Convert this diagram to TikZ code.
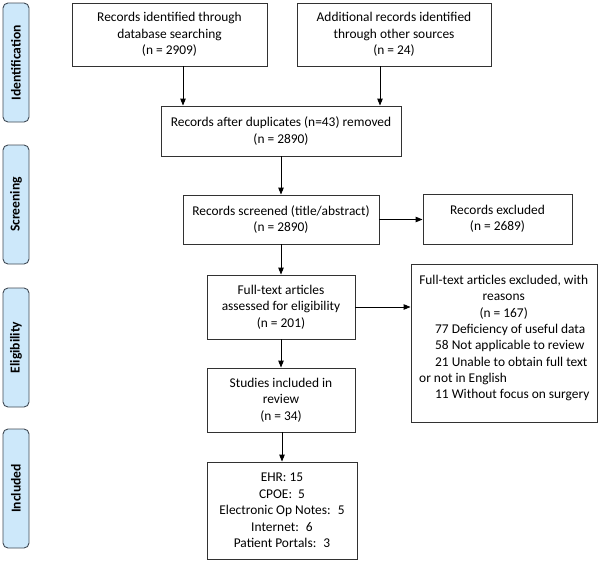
\documentclass[tikz,border=0pt]{standalone}
\usepackage{fontspec}
\setmainfont{Carlito}
\usetikzlibrary{arrows.meta,calc}
\definecolor{lanefill}{RGB}{205,232,250}
\definecolor{laneline}{RGB}{64,74,85}
\definecolor{boxline}{RGB}{50,50,50}
\begin{document}
\begin{tikzpicture}[x=1pt,y=-1pt,
  box/.style={draw=boxline, line width=0.9pt, align=center, inner sep=0pt,
    font=\fontsize{13.4}{16.4}\selectfont},
  lane/.style={draw=laneline, fill=lanefill, rounded corners=5pt, line width=0.9pt,
    minimum width=26pt, minimum height=119pt, inner sep=0pt},
  lanetext/.style={rotate=90, font=\bfseries\fontsize{13.6}{15}\selectfont},
  arr/.style={-{Triangle[length=7pt,width=5.5pt]}, line width=0.9pt, draw=black}]
\useasboundingbox (0,0) rectangle (600,563);

% phase lanes
\node[lane] (l1) at (16,62.5) {};
\node[lanetext] (l1t) at (l1.center) {Identification};
\node[lane] (l2) at (16,204.5) {};
\node[lanetext] (l2t) at (l2.center) {Screening};
\node[lane] (l3) at (16,347.5) {};
\node[lanetext] (l3t) at (l3.center) {Eligibility};
\node[lane] (l4) at (16,488.5) {};
\node[lanetext] (l4t) at (l4.center) {Included};

% boxes
\node[box, minimum width=195pt, minimum height=63pt] (b1) at (169.5,34.5)
  {Records identified through\\database searching\\(n = 2909)};
\node[box, minimum width=194pt, minimum height=63pt] (b2) at (394,34.5)
  {Additional records identified\\through other sources\\(n = 24)};
\node[box, minimum width=240pt, minimum height=50pt] (b3) at (281,131)
  {Records after duplicates (n=43) removed\\(n = 2890)};
\node[box, minimum width=196pt, minimum height=49pt] (b4) at (281,219.5)
  {Records screened (title/abstract)\\(n = 2890)};
\node[box, minimum width=149pt, minimum height=50pt] (ex1) at (497.5,219)
  {Records excluded\\(n = 2689)};
\node[box, minimum width=148pt, minimum height=64pt] (b5) at (281,307)
  {Full-text articles\\assessed for eligibility\\(n = 201)};
\node[box, minimum width=186pt, minimum height=158pt] (ex2) at (504,343) {};
\node[anchor=north west, inner sep=0pt, align=left,
  font=\fontsize{13.4}{16.3}\selectfont] (ex2t) at (419,275)
  {\makebox[169pt][c]{Full-text articles excluded, with}\\
   \makebox[169pt][c]{reasons}\\
   \makebox[169pt][c]{(n = 167)}\\
   \hspace*{16pt}77 Deficiency of useful data\\
   \hspace*{16pt}58 Not applicable to review\\
   \hspace*{16pt}21 Unable to obtain full text\\
   or not in English\\
   \hspace*{16pt}11 Without focus on surgery};
\node[box, minimum width=148pt, minimum height=64pt] (b6) at (281,400)
  {Studies included in\\review\\(n = 34)};
\node[box, minimum width=150pt, minimum height=97pt] (b7) at (282,510.5)
  {EHR: 15\\CPOE:~ 5\\Electronic Op Notes:~ 5\\Internet:~ 6\\Patient Portals:~ 3};

% connectors
\coordinate (c1) at (183,0);
\coordinate (c2) at (380,0);
\draw[arr] (b1.south -| c1) -- (b3.north -| c1);
\draw[arr] (b2.south -| c2) -- (b3.north -| c2);
\draw[arr] (b3.south) -- (b4.north);
\draw[arr] (b4.east) -- (b4.east -| ex1.west);
\draw[arr] (b4.south) -- (b5.north);
\draw[arr] (b5.east) -- (b5.east -| ex2.west);
\draw[arr] (b5.south) -- (b6.north);
\draw[arr] (b6.south -| b7.north) -- (b7.north);
\end{tikzpicture}
\end{document}
